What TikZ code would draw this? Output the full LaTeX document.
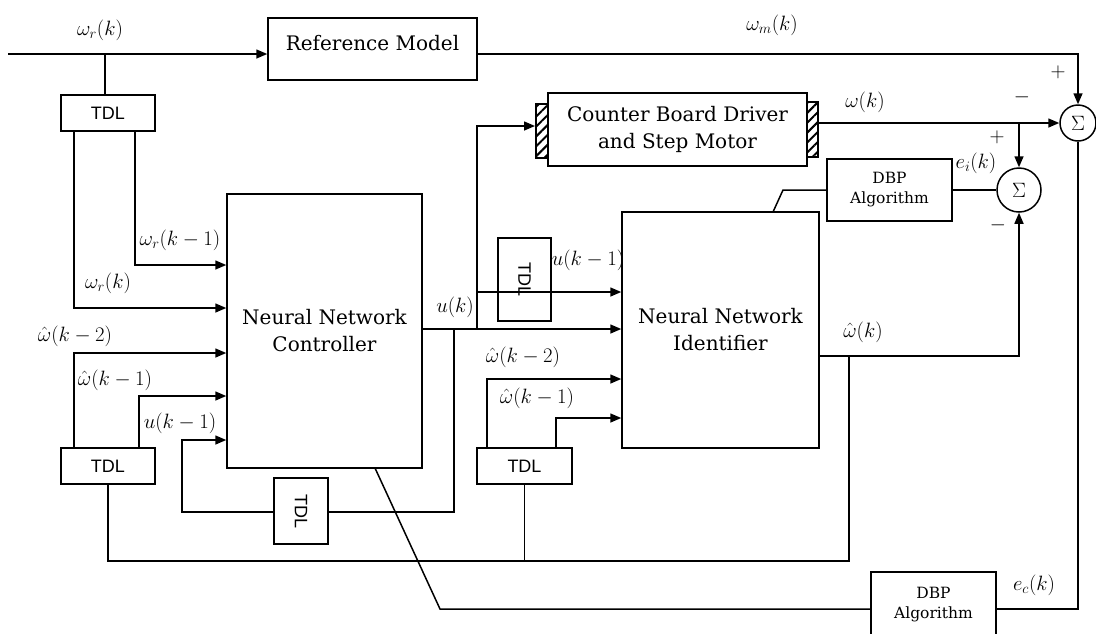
\documentclass[tikz,border=0pt]{standalone}
\usepackage{fontspec}
\setmainfont{DejaVu Serif}
\newfontfamily\tdlfont{Liberation Sans}
\usetikzlibrary{arrows.meta,patterns.meta}
\begin{document}
\begin{tikzpicture}[x=1pt,y=-1pt,line width=1.5pt,
  box/.style={draw,inner sep=0pt,align=center,font=\fontsize{20}{27}\selectfont},
  tdl/.style={draw,inner sep=0pt,font=\tdlfont\fontsize{18}{20}\selectfont},
  dbp/.style={draw,inner sep=0pt,align=center,font=\fontsize{15.5}{20}\selectfont},
  sumc/.style={draw,circle,inner sep=0pt,font=\fontsize{20}{24}\selectfont},
  lab/.style={inner sep=0pt,font=\fontsize{20}{24}\selectfont},
  hatch/.style={draw,inner sep=0pt,pattern={Lines[angle=45,distance=7pt,line width=2pt]}},
  arr/.style={-{Triangle[length=11pt,width=9pt]}}]
\clip (0,0) rectangle (1096,633);
\fill[white] (0,0) rectangle (1096,633);
% blocks
\node[box,minimum width=209pt,minimum height=62pt,label={[box,draw=none,yshift=6pt]center:Reference Model}] (refm) at (372.5,49) {};
\node[box,minimum width=259pt,minimum height=73pt] (cb) at (677.5,129.5) {Counter Board Driver\\and Step Motor};
\node[hatch,minimum width=12pt,minimum height=54pt] (hatchL) at (542,131) {};
\node[hatch,minimum width=11pt,minimum height=55pt] (hatchR) at (812.5,129.5) {};
\node[box,minimum width=195pt,minimum height=274pt] (nnc) at (324.5,331) {Neural Network\\Controller};
\node[box,minimum width=197pt,minimum height=236pt] (nni) at (720.5,330) {Neural Network\\Identifier};
\node[tdl,minimum width=94pt,minimum height=36pt] (tdl1) at (108,113) {TDL};
\node[tdl,minimum width=94pt,minimum height=36pt] (tdl2) at (108,466) {TDL};
\node[tdl,minimum width=95pt,minimum height=36pt] (tdl4) at (524.5,466) {TDL};
\node[tdl,minimum width=66pt,minimum height=54pt,rotate=-90] (tdl3) at (301,511) {TDL};
\node[tdl,minimum width=83pt,minimum height=53pt,rotate=-90] (tdl5) at (524.5,279.5) {TDL};
\node[dbp,minimum width=125pt,minimum height=62pt] (dbp1) at (889.5,190) {DBP\\Algorithm};
\node[dbp,minimum width=125pt,minimum height=66pt] (dbp2) at (933.5,605) {DBP\\Algorithm};
\node[sumc,minimum size=36pt] (s1) at (1078,123) {$\Sigma$};
\node[sumc,minimum size=44pt] (s2) at (1019,190) {$\Sigma$};
% coordinates
\coordinate (in) at (8,54);
\coordinate (j1) at (105,54);
\coordinate (a1) at (74,308);
\coordinate (a2) at (135,265);
\coordinate (a3) at (74,353);
\coordinate (a4) at (139,396);
\coordinate (ju1) at (477,329);
\coordinate (ju2) at (454,329);
\coordinate (c1) at (477,126);
\coordinate (c2) at (477,292);
\coordinate (c3) at (454,512);
\coordinate (c4) at (182,440);
\coordinate (c5) at (1078,54);
\coordinate (c6) at (1019,123);
\coordinate (c7) at (1019,356);
\coordinate (c8) at (108,561);
\coordinate (c9) at (849,561);
\coordinate (a5) at (487,379);
\coordinate (a6) at (556,418);
\coordinate (c10) at (783,190);
\coordinate (c11) at (773,212);
\coordinate (c12) at (1078,609);
\coordinate (c13) at (440,609);
\coordinate (c14) at (375,468);
% connectors
\draw[arr] (in) -- (in -| refm.west);
\draw (j1) -- (j1 |- tdl1.north);
\draw[arr] (tdl1.south -| a1) -- (a1) -- (a1 -| nnc.west);
\draw[arr] (tdl1.south -| a2) -- (a2) -- (a2 -| nnc.west);
\draw[arr] (tdl2.north -| a3) -- (a3) -- (a3 -| nnc.west);
\draw[arr] (tdl2.north -| a4) -- (a4) -- (a4 -| nnc.west);
\draw[arr] (ju2 -| nnc.east) -- (ju2 -| nni.west);
\draw[arr] (ju1) -- (c1) -- (c1 -| hatchL.west);
\draw (c2) -- (c2 -| tdl5.north);
\draw[arr] (c2 -| tdl5.south) -- (c2 -| nni.west);
\draw (ju2) -- (c3) -- (c3 -| tdl3.north);
\draw[arr] (c3 -| tdl3.south) -- (c3 -| c4) -- (c4) -- (c4 -| nnc.west);
\draw[arr] (c5 -| refm.east) -- (c5) -- (s1.north);
\draw[arr] (c6 -| hatchR.east) -- (s1.west);
\draw[arr] (c6) -- (s2.north);
\draw[arr] (c7 -| nni.east) -- (c7) -- (s2.south);
\draw (tdl2.south) -- (c8) -- (c9) -- (c9 |- c7);
\draw (tdl4.south) -- (tdl4.south |- c8);
\draw[arr] (tdl4.north -| a5) -- (a5) -- (a5 -| nni.west);
\draw[arr] (tdl4.north -| a6) -- (a6) -- (a6 -| nni.west);
\draw (dbp1.east) -- (s2.west);
\draw (dbp1.west) -- (c10) -- (c11);
\draw (s1.south) -- (c12) -- (c12 -| dbp2.east);
\draw (c12 -| dbp2.west) -- (c13) -- (c14);
% labels
\node[lab] (l1) at (100,30) {$\omega_r(k)$};
\node[lab] (l2) at (772,25) {$\omega_m(k)$};
\node[lab] (l3) at (865,102) {$\omega(k)$};
\node[lab] (p1) at (1058,72) {$+$};
\node[lab] (m1) at (1022,97) {$-$};
\node[lab] (p2) at (997,137) {$+$};
\node[lab] (l4) at (976,163) {$e_i(k)$};
\node[lab] (m2) at (998,225) {$-$};
\node[lab] (l5) at (863,332) {$\hat\omega(k)$};
\node[lab] (l6) at (1034,585) {$e_c(k)$};
\node[lab] (l7) at (180,240) {$\omega_r(k-1)$};
\node[lab] (l8) at (108,283) {$\omega_r(k)$};
\node[lab] (l9) at (75,336) {$\hat\omega(k-2)$};
\node[lab] (l10) at (115,380) {$\hat\omega(k-1)$};
\node[lab] (l11) at (180,423) {$u(k-1)$};
\node[lab] (l12) at (455,307) {$u(k)$};
\node[lab] (l13) at (588,260) {$u(k-1)$};
\node[lab] (l14) at (523,357) {$\hat\omega(k-2)$};
\node[lab] (l15) at (537,398) {$\hat\omega(k-1)$};
\end{tikzpicture}
\end{document}
